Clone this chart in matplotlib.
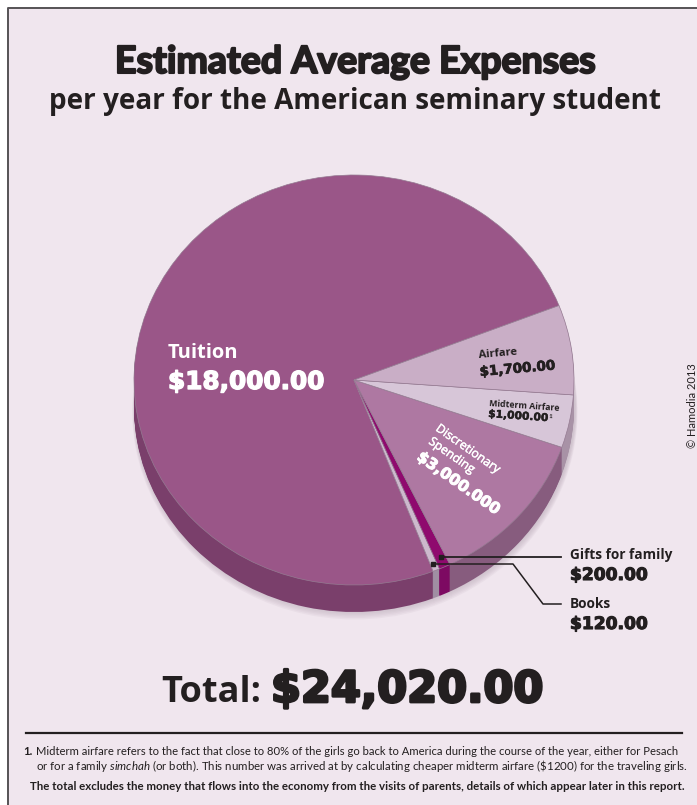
import matplotlib
matplotlib.use('Agg')
from matplotlib import pyplot as plt
from matplotlib import patheffects as pe

W, H = 697, 805
BG = '#f0e6ee'
DARK = '#231f20'

# drawn counter-clockwise starting at the tuition wedge
categories = ['Tuition', 'Books', 'Gifts for family', 'Discretionary Spending', 'Midterm Airfare', 'Airfare']
values = [18000, 120, 200, 3000, 1000, 1700]
top_colors = ['#9a5688', '#cdb9cd', '#8f0a6e', '#ae78a2', '#d7c6d8', '#c9aec6']
wall_colors = ['#7a3f6b', '#a08fa3', '#7d0a62', '#875c7e', '#a892a6', '#a892a6']

center_x, center_y = 354, 380
radius_x, radius_y = 220, 205
depth = 27
start_angle = 21.3

plt.rcParams['font.family'] = ['Lato', 'DejaVu Sans']
plt.rcParams['mathtext.fontset'] = 'custom'
plt.rcParams['mathtext.it'] = 'Lato:italic'
plt.rcParams['mathtext.rm'] = 'Lato'

fig = plt.figure(figsize=(W / 100, H / 100), dpi=100, facecolor='white')

frame = fig.add_axes([0, 0, 1, 1])
frame.set_xlim(0, W)
frame.set_ylim(H, 0)
frame.axis('off')
frame.fill_between([8, W], 8, H, color=BG, lw=0)
frame.plot([8, 8, W], [H, 8, 8], color='#555255', lw=1.4)

# pie axes: one data unit is one radius, so the ellipse comes from the scales
ax = fig.add_axes([0, 0, 1, 1], facecolor='none')

# soft shadow, then the side wall, then the top face
for i in range(6):
    ax.pie(values, colors=['#b9a8b6'] * 6, startangle=start_angle, radius=1 + 0.002 * (6 - i),
           center=(0.004, -(depth + 5 - i) / radius_y), wedgeprops={'alpha': 0.12, 'lw': 0})
for d in range(depth, 0, -1):
    ax.pie(values, colors=wall_colors, startangle=start_angle,
           center=(0, -d / radius_y), wedgeprops={'lw': 0})
ax.pie(values, colors=top_colors, startangle=start_angle,
       wedgeprops={'lw': 0.5, 'edgecolor': '#957b92'})
ax.set_aspect('auto')
ax.set_xlim(-center_x / radius_x, (W - center_x) / radius_x)
ax.set_ylim(-(H - center_y) / radius_y, center_y / radius_y)
ax.axis('off')

over = fig.add_axes([0, 0, 1, 1], facecolor='none')
over.set_xlim(0, W)
over.set_ylim(H, 0)
over.axis('off')


def txt(x, y, s, size, weight='normal', color=DARK, ha='left', rot=0, fam='Lato', heavy=0):
    t = over.text(x, y, s, fontsize=size, fontweight=weight, color=color, ha=ha, va='baseline',
                  rotation=rot, rotation_mode='anchor', family=[fam, 'DejaVu Sans'])
    if heavy:
        # no black cut of the face here, so thicken the bold one
        t.set_path_effects([pe.withStroke(linewidth=heavy, foreground=color)])
    return t


def money(x, y, s, size, color=DARK, rot=0, heavy=0.6):
    # DejaVu bold has the wide digits of the original
    return txt(x, y, s, size, 'bold', color, rot=rot, fam='DejaVu Sans', heavy=heavy)


txt(355, 73, 'Estimated Average Expenses', 27, 'bold', ha='center', heavy=1.5)
txt(355, 109, 'per year for the American seminary student', 20.1, 'bold', ha='center', fam='Open Sans')

txt(168, 358, 'Tuition', 14.5, 'bold', 'white', fam='Open Sans')
money(168, 389, '$18,000.00', 17.8, 'white', heavy=1.0)

txt(479, 358, 'Airfare', 8, 'bold', rot=5, fam='Open Sans')
money(480, 376, '$1,700.00', 9.7, rot=5, heavy=0.5)
txt(489, 406, 'Midterm Airfare', 6.3, 'bold', rot=-4, fam='Open Sans')
money(488, 417, '$1,000.00', 7.7, rot=-4, heavy=0.3)
txt(549, 418, '1', 4.5, 'bold', rot=-4)

txt(435, 430, 'Discretionary', 8.8, 'normal', 'white', rot=-35, fam='Open Sans', heavy=0.3)
txt(428, 443, 'Spending', 8.8, 'normal', 'white', rot=-35, fam='Open Sans', heavy=0.3)
money(416, 459, '$3,000.000', 11.1, 'white', rot=-35, heavy=0.7)

txt(570, 559, 'Gifts for family', 9.8, 'bold', fam='Open Sans')
money(570, 580, '$200.00', 12.3, heavy=0.8)
txt(570, 608, 'Books', 9.8, 'bold', fam='Open Sans')
money(570, 629, '$120.00', 12.3, heavy=0.8)

# leader lines
over.plot([441, 561], [557, 557], color=DARK, lw=1.3)
over.plot([433, 513, 543, 561], [564, 564, 604, 604], color=DARK, lw=1.1)
over.plot([441, 433], [557, 564], ls='none', marker='s', ms=2.8, color=DARK)

txt(261, 702, 'Total:', 26, 'bold', ha='right', fam='Open Sans')
money(271, 702, '$24,020.00', 31, heavy=2.0)

over.plot([26, 682], [732.5, 732.5], color=DARK, lw=1.6)

txt(23, 755, '1.', 8.1, 'bold')
over.text(36, 755, 'Midterm airfare refers to the fact that close to 80% of the girls go back to America during the course of the year, either for Pesach',
          fontsize=8.1, color=DARK, family='Lato')
over.text(36, 770, r'or for a family $\mathit{simchah}$ (or both). This number was arrived at by calculating cheaper midterm airfare (\$1200) for the traveling girls.',
          fontsize=8.25, color=DARK, family='Lato')
txt(357, 790, 'The total excludes the money that flows into the economy from the visits of parents, details of which appear later in this report.',
    8.25, 'bold', ha='center')

over.text(693, 406, '© Hamodia 2013', fontsize=8, color=DARK, family='Lato',
          rotation=90, ha='center', va='center', clip_on=False)

fig.savefig('out.png', dpi=100)
